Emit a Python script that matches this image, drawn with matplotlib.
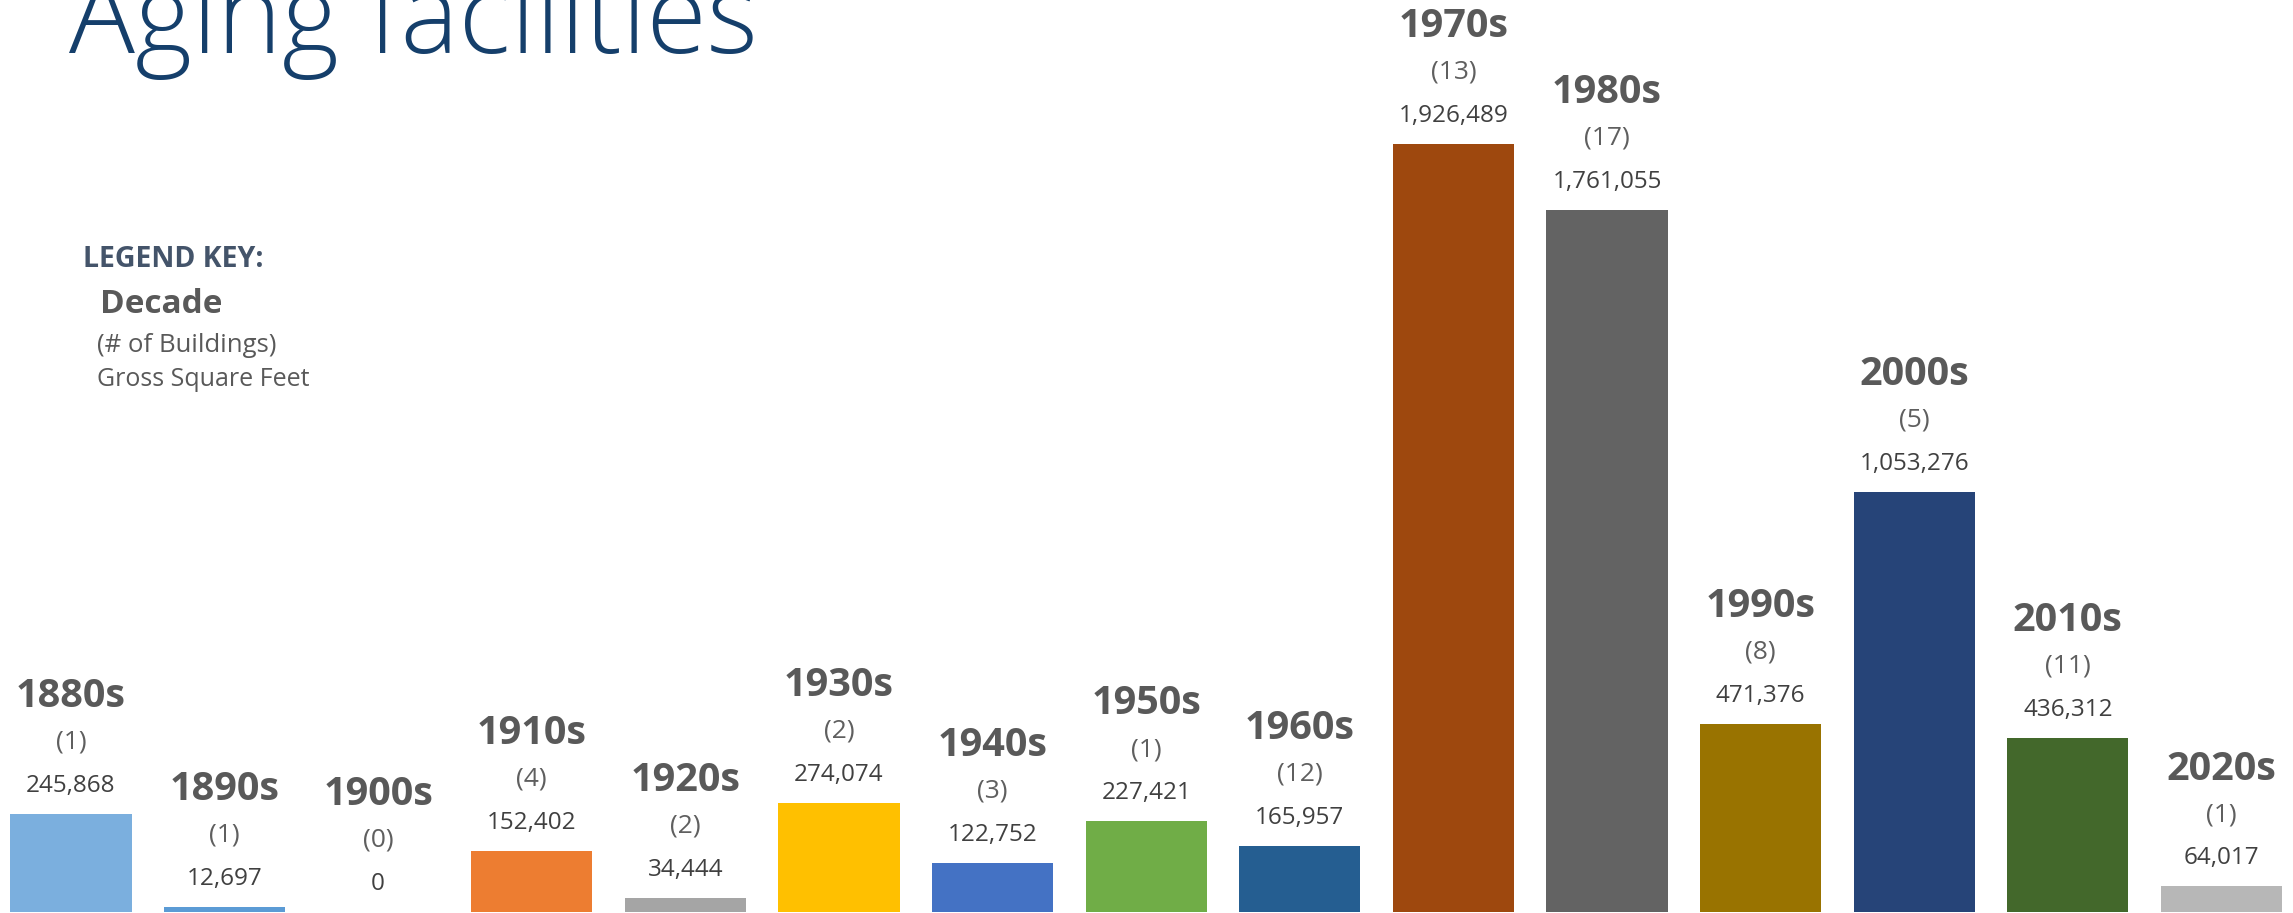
import matplotlib.pyplot as plt

decades = ['1880s', '1890s', '1900s', '1910s', '1920s', '1930s', '1940s', '1950s',
           '1960s', '1970s', '1980s', '1990s', '2000s', '2010s', '2020s']
buildings = [1, 1, 0, 4, 2, 2, 3, 1, 12, 13, 17, 8, 5, 11, 1]
gross_sqft = [245868, 12697, 0, 152402, 34444, 274074, 122752, 227421,
              165957, 1926489, 1761055, 471376, 1053276, 436312, 64017]
bar_colors = ['#7BAFDE', '#5B9BD5', '#FFFFFF', '#ED7D31', '#A5A5A5', '#FFC000',
              '#4472C4', '#70AD47', '#255E91', '#9E480E', '#636363', '#997300',
              '#264478', '#43682B', '#B7B7B7']

plt.rcParams['font.family'] = ['Open Sans', 'DejaVu Sans']

fig = plt.figure(figsize=(22.93, 9.13), dpi=100)
ax = fig.add_axes([0, 0, 1, 1])

x = list(range(len(decades)))
ax.bar(x, gross_sqft, width=0.79, color=bar_colors, edgecolor='none')

ax.set_xlim(-0.462, 14.466)
ax.set_ylim(-2508, 2287660)
ax.axis('off')

# three stacked labels above each bar
for xi, d, n, v in zip(x, decades, buildings, gross_sqft):
    ax.annotate(f'{v:,}', (xi, v), xytext=(0, 16), textcoords='offset points',
                ha='center', va='baseline', fontsize=17.5, color='#404040')
    ax.annotate(f'({n})', (xi, v), xytext=(0, 47), textcoords='offset points',
                ha='center', va='baseline', fontsize=19, color='#5F5F5F')
    ax.annotate(d, (xi, v), xytext=(0, 77), textcoords='offset points',
                ha='center', va='baseline', fontsize=28.5, fontweight='bold',
                color='#595959')

# title (cut off at the top like the original)
fig.text(69 / 2293, 1 - 53 / 913, 'Aging facilities', fontsize=79,
         fontweight='light', color='#153F6B', ha='left', va='baseline')

# legend key
fig.text(83 / 2293, 1 - 267 / 913, 'LEGEND KEY:', fontsize=20.5, fontweight='bold',
         color='#44546A', va='baseline')
fig.text(100 / 2293, 1 - 313 / 913, 'Decade', fontsize=24, fontweight='bold',
         color='#595959', va='baseline')
fig.text(97 / 2293, 1 - 352 / 913, '(# of Buildings)', fontsize=18.5,
         color='#595959', va='baseline')
fig.text(97 / 2293, 1 - 386 / 913, 'Gross Square Feet', fontsize=18,
         color='#595959', va='baseline')

fig.savefig('out.png', dpi=100)
